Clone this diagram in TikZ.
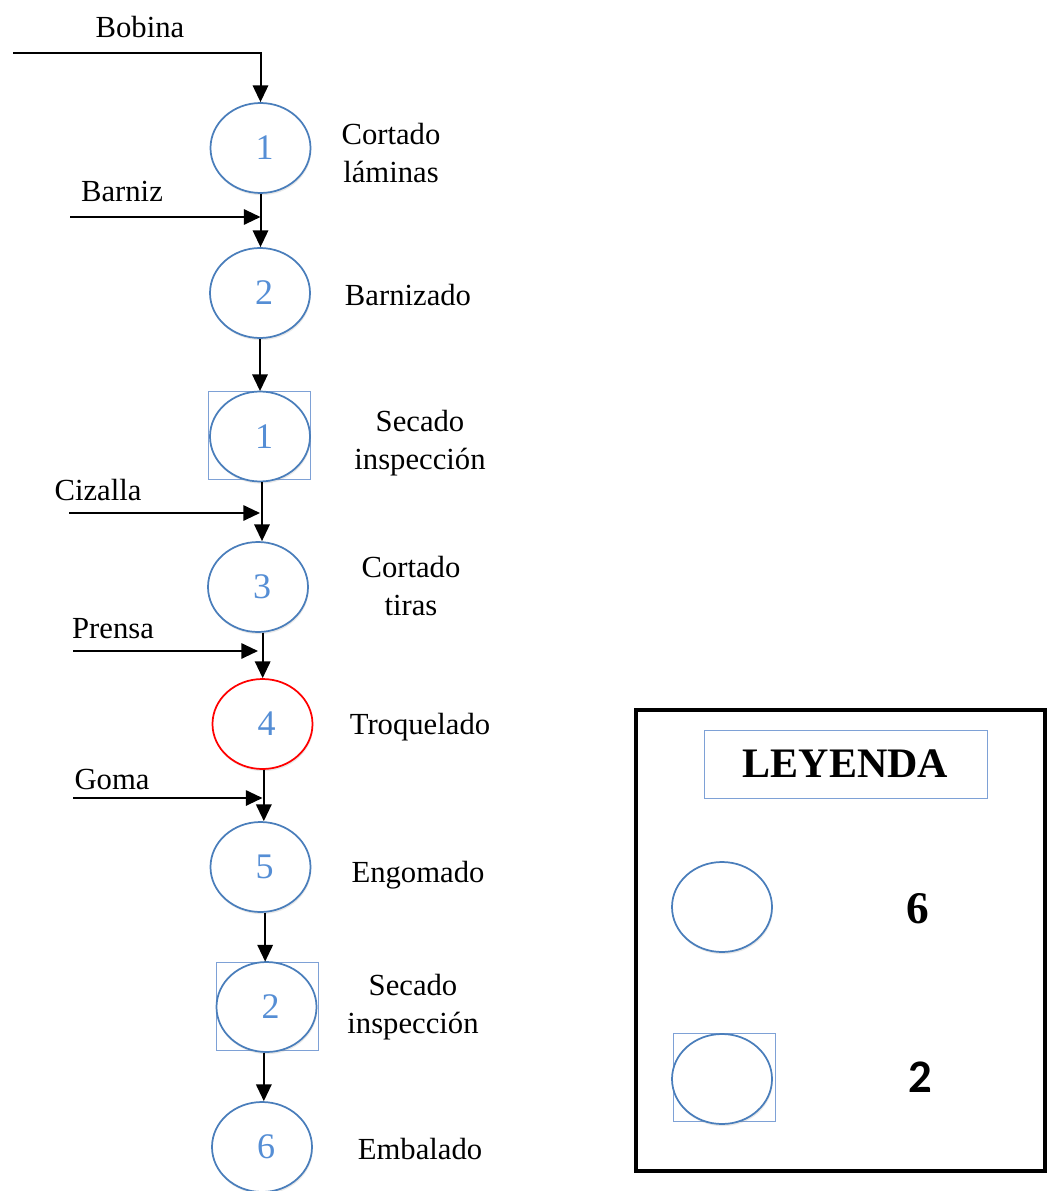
\documentclass[tikz,border=0pt]{standalone}
\usepackage{fontspec}
\setmainfont{Liberation Serif}
\newfontfamily\carlito{Carlito}
\usetikzlibrary{shapes.geometric,arrows.meta,shadows}
\definecolor{cblue}{HTML}{4A7EBB}
\definecolor{dblue}{HTML}{558ED5}
\definecolor{sqblue}{HTML}{7EA1D6}
\tikzset{
  proc/.style={ellipse, draw=cblue, line width=1.3pt, fill=white, minimum width=75pt, minimum height=67.5pt, inner sep=0pt,
     text=dblue, font=\fontsize{27}{30}\selectfont,
     drop shadow={opacity=0.18, shadow xshift=0.6pt, shadow yshift=-1.6pt}},
  redproc/.style={proc, draw=red},
  sq/.style={rectangle, draw=sqblue, line width=0.6pt, minimum width=76.5pt, minimum height=66pt, inner sep=0pt},
  lbl/.style={align=center, font=\fontsize{23}{28.5}\selectfont, inner sep=0pt},
  flow/.style={line width=1.5pt, -{Triangle[length=12.5pt,width=11.5pt]}}
}
\newcommand{\dg}[1]{\hspace*{6pt}#1}
\begin{document}
\begin{tikzpicture}[x=0.75pt,y=-0.75pt]
\useasboundingbox (0,0) rectangle (1053,1191);
% squares behind circles
\node[sq] (sq1) at (259,435.5) {};
\node[sq] (sq2) at (267,1006) {};
% process circles
\node[proc] (c1) at (260.5,148) {\dg{1}};
\node[proc] (c2) at (260,293) {\dg{2}};
\node[proc] (s1) at (260,436.5) {\dg{1}};
\node[proc] (c3) at (258,587) {\dg{3}};
\node[redproc] (c4) at (262.5,724) {\dg{4}};
\node[proc] (c5) at (260.5,867) {\dg{5}};
\node[proc] (s2) at (266.5,1007) {\dg{2}};
\node[proc] (c6) at (262,1147) {\dg{6}};
% labels
\node[lbl] (l1) at (391,153) {Cortado\\láminas};
\node[lbl] (l2) at (408,295) {Barnizado};
\node[lbl] (l3) at (420,443) {Secado\\inspección};
\node[lbl] (l4) at (411,586) {Cortado\\tiras};
\node[lbl] (l5) at (420,727) {Troquelado};
\node[lbl] (l6) at (418,875) {Engomado};
\node[lbl] (l7) at (413,1007) {Secado\\inspección};
\node[lbl] (l8) at (420,1149) {Embalado};
% inputs
\node[lbl] (tbob) at (140,27) {Bobina};
\node[lbl] (tbar) at (122,191) {Barniz};
\node[lbl] (tciz) at (98,490) {Cizalla};
\node[lbl] (tpre) at (113,629) {Prensa};
\node[lbl] (tgom) at (112,779) {Goma};
\coordinate (bobS) at (13,53);
\coordinate (barS) at (70,217);
\coordinate (cizS) at (69,513);
\coordinate (preS) at (73,651);
\coordinate (gomS) at (73,798);
\draw[flow] (bobS) -| (c1.north);
\draw[flow] (barS) -- (barS -| c1.south);
\draw[flow] (cizS) -- (cizS -| s1.south);
\draw[flow] (preS) -- (preS -| c3.south);
\draw[flow] (gomS) -- (gomS -| c4.south);
% vertical connectors
\draw[flow] (c1.south) -- (c1.south |- c2.north);
\draw[flow] (c2.south) -- (c2.south |- sq1.north);
\draw[flow] ([xshift=1.5pt]s1.south) -- ([xshift=1.5pt]s1.south |- c3.north);
\draw[flow] ([xshift=3.5pt]c3.south) -- ([xshift=3.5pt]c3.south |- c4.north);
\draw[flow] ([xshift=1pt]c4.south) -- ([xshift=1pt]c4.south |- c5.north);
\draw[flow] ([xshift=3.5pt]c5.south) -- ([xshift=3.5pt]c5.south |- sq2.north);
\draw[flow] ([xshift=-2pt]s2.south) -- ([xshift=-2pt]s2.south |- c6.north);
% legend
\node[draw=black, line width=3pt, minimum width=306.75pt, minimum height=345.75pt, inner sep=0pt] (leg) at (840.5,940.5) {};
\node[draw=sqblue, line width=0.6pt, minimum width=212.25pt, minimum height=51pt, inner sep=0pt,
      font=\bfseries\fontsize{31.5}{34}\selectfont] (legt) at (845.5,764) {LEYENDA};
\node[proc] (lc1) at (722,907) {};
\node[sq] (lsq) at (724,1077.5) {};
\node[proc] (lc2) at (722,1079) {};
\node[font=\bfseries\fontsize{34}{36}\selectfont, inner sep=0pt] (n6) at (918,909) {6};
\node[font=\carlito\bfseries\fontsize{35}{38}\selectfont, inner sep=0pt] (n2) at (920,1077) {2};
\end{tikzpicture}
\end{document}
